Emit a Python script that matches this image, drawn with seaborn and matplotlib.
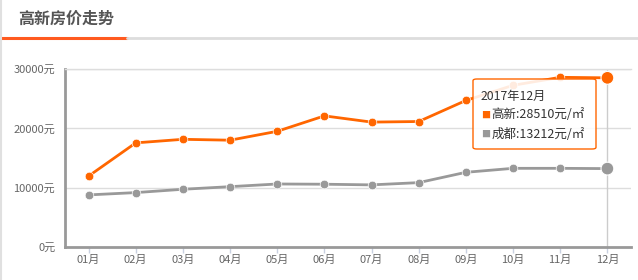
import matplotlib
matplotlib.use("Agg")
import matplotlib.pyplot as plt
import seaborn as sns
import pandas as pd
from matplotlib.patches import FancyBboxPatch
from matplotlib.lines import Line2D

months = ["01月", "02月", "03月", "04月", "05月", "06月", "07月", "08月", "09月", "10月", "11月", "12月"]
gaoxin = [11950, 17550, 18150, 18000, 19500, 22100, 21050, 21150, 24700, 27250, 28600, 28510]
chengdu = [8780, 9170, 9730, 10170, 10620, 10580, 10470, 10850, 12590, 13260, 13260, 13212]
series_names = ["高新", "成都"]
colors = ["#FF6600", "#999999"]
yticks = [0, 10000, 20000, 30000]
title = "高新房价走势"
tooltip_title = "2017年12月"

sns.set_theme(style="white")
plt.rcParams['font.family'] = ['Noto Sans CJK SC', 'DejaVu Sans']

df = pd.DataFrame({
    "x": list(range(len(months))) * 2,
    "value": gaoxin + chengdu,
    "series": [series_names[0]] * len(months) + [series_names[1]] * len(months),
})

fig = plt.figure(figsize=(6.38, 2.8), dpi=100)
ax = fig.add_axes([65/638, 1-247/280, (631-65)/638, (247-69)/280])

for v in yticks[1:]:
    ax.axhline(v, color="#dddddd", lw=1, zorder=0)

# crosshair
ax.axvline(len(months)-1, color="#cccccc", lw=1, zorder=1)

palette = dict(zip(series_names, colors))
sns.lineplot(data=df, x="x", y="value", hue="series", palette=palette, ax=ax,
             marker="o", markersize=6.2, markeredgecolor="white", markeredgewidth=0.5,
             linewidth=2, legend=False, zorder=3)
last = df[df["x"] == len(months)-1]
sns.scatterplot(data=last, x="x", y="value", hue="series", palette=palette, ax=ax,
                s=85, edgecolor="white", linewidth=0.8, legend=False, zorder=4)

ax.set_xlim(-0.5, len(months)-0.5)
ax.set_ylim(0, 30000)
ax.set_xticks(range(len(months)))
ax.set_xticklabels(months)
ax.set_yticks(yticks)
ax.set_yticklabels([f"{v}元" for v in yticks])
ax.set_xlabel("")
ax.set_ylabel("")
ax.tick_params(axis="x", length=4, width=1, color="#c8d0e0", labelsize=8, labelcolor="#666666", pad=2, direction="out")
ax.tick_params(axis="y", length=0, labelsize=8, labelcolor="#666666", pad=7)
ax.xaxis.set_ticks_position("bottom")
for s in ["top", "right"]:
    ax.spines[s].set_visible(False)
for s in ["left", "bottom"]:
    ax.spines[s].set_color("#999999")
    ax.spines[s].set_linewidth(2)
ax.spines["top"].set_visible(True)
ax.spines["top"].set_color("#dddddd")
ax.spines["top"].set_linewidth(1)

# Title and underline
fig.text(18/638, 1-19/280, title, fontsize=11.5, fontweight="bold", color="#555555", va="center", ha="left")
fig.add_artist(Line2D([0, 127/638], [1-37.5/280]*2, color="#FF5A1F", lw=2.2, transform=fig.transFigure))
fig.add_artist(Line2D([127/638, 1], [1-37.5/280]*2, color="#dddddd", lw=2, transform=fig.transFigure))
fig.add_artist(Line2D([0.5/638, 0.5/638], [0, 1], color="#e0e0e0", lw=1.5, transform=fig.transFigure))

# Tooltip
bx0, by0, bx1, by1 = 473, 79, 596, 149
box = FancyBboxPatch((bx0/638, 1-by1/280), (bx1-bx0)/638, (by1-by0)/280,
                     boxstyle="round,pad=0,rounding_size=0.006", transform=fig.transFigure,
                     facecolor=(1, 1, 1, 0.88), edgecolor="#FF6600", lw=1, zorder=10)
fig.add_artist(box)
fig.text(481/638, 1-96/280, tooltip_title, fontsize=8.8, color="#333333", va="center", ha="left", zorder=11)
vals = [gaoxin[-1], chengdu[-1]]
for i, (name, c, v) in enumerate(zip(series_names, colors, vals)):
    yy = 1 - (115 + i*19)/280
    fig.text(481/638, yy, "■", fontsize=6.5, color=c, va="center", ha="left", zorder=11)
    fig.text(491.5/638, yy, f"{name}:{v}元/㎡", fontsize=9, color="#333333", va="center", ha="left", zorder=11)

fig.savefig("out.png", dpi=100)
